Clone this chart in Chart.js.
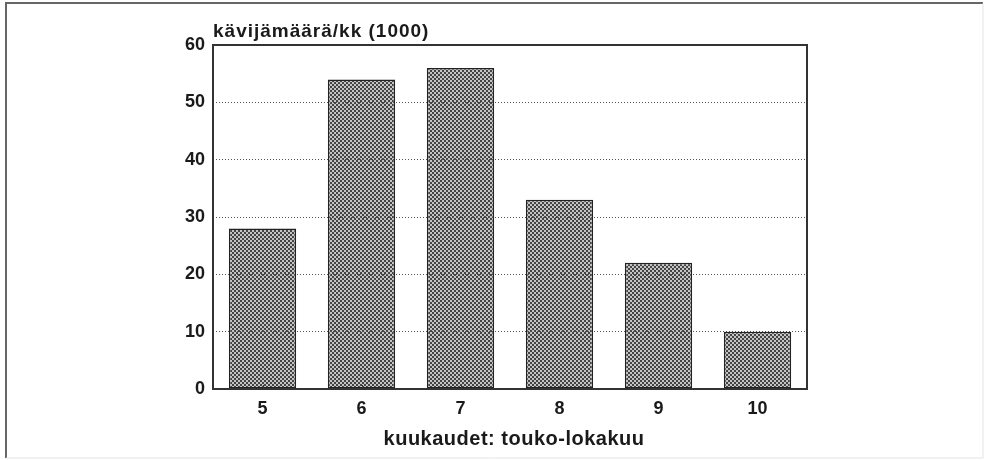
<!DOCTYPE html>
<html>
<head>
<meta charset="utf-8">
<script src="https://cdn.jsdelivr.net/npm/chart.js@4/dist/chart.umd.min.js"></script>
<style>
html,body{margin:0;padding:0;background:#fff;}
#wrap{width:985px;height:460px;position:relative;}
</style>
</head>
<body>
<div id="wrap"><canvas id="c" width="985" height="460"></canvas></div>
<script>
const months = ['5', '6', '7', '8', '9', '10'];
const visitors = [28, 54, 56, 33, 22, 10];
const yTicks = [0, 10, 20, 30, 40, 50, 60];
const yTitle = 'kävijämäärä/kk (1000)';
const xTitle = 'kuukaudet: touko-lokakuu';

function makePattern() {
  const p = document.createElement('canvas');
  p.width = 4; p.height = 4;
  const g = p.getContext('2d');
  g.fillStyle = '#c4c4c4'; g.fillRect(0, 0, 4, 4);
  g.fillStyle = '#444';
  g.fillRect(0, 0, 2, 2);
  g.fillRect(2, 2, 2, 2);
  return g.createPattern(p, 'repeat');
}

const framePlugin = {
  id: 'frame',
  afterDraw(chart) {
    const ctx = chart.ctx;
    const a = chart.chartArea;
    ctx.save();
    ctx.strokeStyle = '#666';
    ctx.lineWidth = 2;
    ctx.beginPath();
    ctx.moveTo(6, 458); ctx.lineTo(6, 3); ctx.lineTo(983, 3);
    ctx.stroke();
    ctx.strokeStyle = '#e4e4e4';
    ctx.lineWidth = 1;
    ctx.beginPath();
    ctx.moveTo(983, 3); ctx.lineTo(983, 458); ctx.lineTo(6, 458);
    ctx.stroke();
    ctx.strokeStyle = '#333';
    ctx.lineWidth = 2;
    ctx.strokeRect(a.left, a.top, a.right - a.left, a.bottom - a.top);
    const xs = chart.scales.x;
    ctx.lineWidth = 1;
    months.forEach((m, i) => {
      const x = Math.round(xs.getPixelForValue(i)) + 0.5;
      ctx.beginPath(); ctx.moveTo(x, a.bottom); ctx.lineTo(x, a.bottom - 4); ctx.stroke();
    });
    ctx.fillStyle = '#1a1a1a';
    ctx.textBaseline = 'alphabetic';
    ctx.textAlign = 'left';
    ctx.font = 'bold 19px "Liberation Sans", Arial, sans-serif';
    ctx.letterSpacing = '1px';
    ctx.fillText(yTitle, a.left, 37);
    ctx.font = 'bold 20px "Liberation Sans", Arial, sans-serif';
    ctx.letterSpacing = '0.5px';
    ctx.textAlign = 'center';
    ctx.fillText(xTitle, (a.left + a.right) / 2 + 4, 445);
    ctx.restore();
  }
};

new Chart(document.getElementById('c'), {
  type: 'bar',
  data: {
    labels: months,
    datasets: [{
      data: visitors,
      backgroundColor: makePattern(),
      borderColor: '#222',
      borderWidth: 1.5,
      borderSkipped: false,
      barPercentage: 0.68,
      categoryPercentage: 1.0
    }]
  },
  options: {
    responsive: false,
    animation: false,
    devicePixelRatio: 1,
    layout: { padding: { left: 0, right: 178, top: 45, bottom: 0 } },
    plugins: { legend: { display: false }, tooltip: { enabled: false } },
    scales: {
      x: {
        grid: { display: false, drawTicks: false },
        border: { display: false },
        ticks: {
          color: '#1a1a1a',
          padding: 9,
          font: { family: '"Liberation Sans", Arial, sans-serif', size: 18, weight: 'bold' }
        },
        afterFit(s) { s.height = 71; }
      },
      y: {
        min: 0, max: 60,
        afterBuildTicks(s) { s.ticks = yTicks.map(v => ({ value: v })); },
        grid: {
          z: 1,
          color: (c) => (c.tick.value === 0 || c.tick.value === 60) ? 'rgba(0,0,0,0)' : '#555',
          lineWidth: 1,
          drawTicks: false
        },
        border: { display: false, dash: [1, 2] },
        ticks: {
          color: '#1a1a1a',
          padding: 8,
          font: { family: '"Liberation Sans", Arial, sans-serif', size: 18, weight: 'bold' }
        },
        afterFit(s) { s.width = 213; }
      }
    }
  },
  plugins: [framePlugin]
});
</script>
</body>
</html>
